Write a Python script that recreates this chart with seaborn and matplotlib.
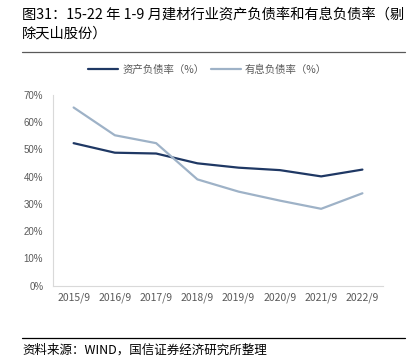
import matplotlib
matplotlib.use("Agg")
import matplotlib.pyplot as plt
import seaborn as sns
import pandas as pd
import numpy as np
from matplotlib.lines import Line2D

years = ["2015/9", "2016/9", "2017/9", "2018/9", "2019/9", "2020/9", "2021/9", "2022/9"]
asset_liab = [52.3, 48.8, 48.5, 44.9, 43.3, 42.4, 40.1, 42.6]
interest_liab = [65.4, 55.2, 52.3, 39.0, 34.5, 31.2, 28.2, 33.9]
name_a = "资产负债率（%）"
name_b = "有息负债率（%）"
yticks = [0, 10, 20, 30, 40, 50, 60, 70]

sns.set_theme(style="white")
plt.rcParams['font.family'] = ['Noto Sans CJK SC', 'DejaVu Sans']

df = pd.DataFrame({"year": years, name_a: asset_liab, name_b: interest_liab})
long = df.melt(id_vars="year", var_name="series", value_name="value")
long["x"] = long["year"].map({y: i for i, y in enumerate(years)})

fig = plt.figure(figsize=(4.15, 3.57), dpi=100)
ax = fig.add_axes([0.1277, 0.2, 0.7953, 0.534])

sns.lineplot(data=long, x="x", y="value", hue="series",
             palette={name_a: "#1f3864", name_b: "#9eb2c7"},
             linewidth=1.6, ax=ax, legend=False, sort=False)

ax.set_xlim(-0.5, len(years) - 0.5)
ax.set_ylim(0, 70)
ax.set_yticks(yticks)
ax.set_yticklabels([f"{v}%" for v in yticks], family=['Liberation Sans', 'DejaVu Sans'])
ax.set_xticks(range(len(years)))
ax.set_xticklabels(years)
ax.set_xticks(np.arange(-0.5, len(years)), minor=True)
ax.tick_params(axis="x", which="major", length=0, labelsize=7.5, colors="#595959", pad=5)
ax.tick_params(axis="x", which="minor", length=4, color="#d9d9d9", direction="out")
ax.tick_params(axis="y", length=4, color="#d9d9d9", labelsize=7, colors="#595959", pad=3)
ax.set_xlabel("")
ax.set_ylabel("")
for s in ["top", "right"]:
    ax.spines[s].set_visible(False)
for s in ["left", "bottom"]:
    ax.spines[s].set_color("#d9d9d9")
    ax.spines[s].set_linewidth(0.8)

# legend
handles = [Line2D([], [], color="#1f3864", lw=1.6), Line2D([], [], color="#9eb2c7", lw=1.6)]
fig.legend(handles, [name_a, name_b], loc="center", bbox_to_anchor=(0.5, 0.805),
           ncol=2, frameon=False, fontsize=7.5, handlelength=2.9, handletextpad=0.4,
           columnspacing=0.6, labelcolor="#595959")

# title and source
fig.text(0.053, 0.958, "图31：15-22 年 1-9 月建材行业资产负债率和有息负债率（剔",
         fontsize=10.3, color="#000000", va="center", ha="left")
fig.text(0.053, 0.906, "除天山股份）", fontsize=10.3, color="#000000", va="center", ha="left")
fig.add_artist(Line2D([0.053, 0.976], [0.855, 0.855], color="#595959", lw=0.9))
fig.add_artist(Line2D([0.053, 0.976], [0.054, 0.054], color="#000000", lw=0.9))
fig.text(0.053, 0.02, "资料来源：WIND，国信证券经济研究所整理", fontsize=9.0,
         color="#000000", va="center", ha="left")

fig.savefig("out.png", dpi=100)
